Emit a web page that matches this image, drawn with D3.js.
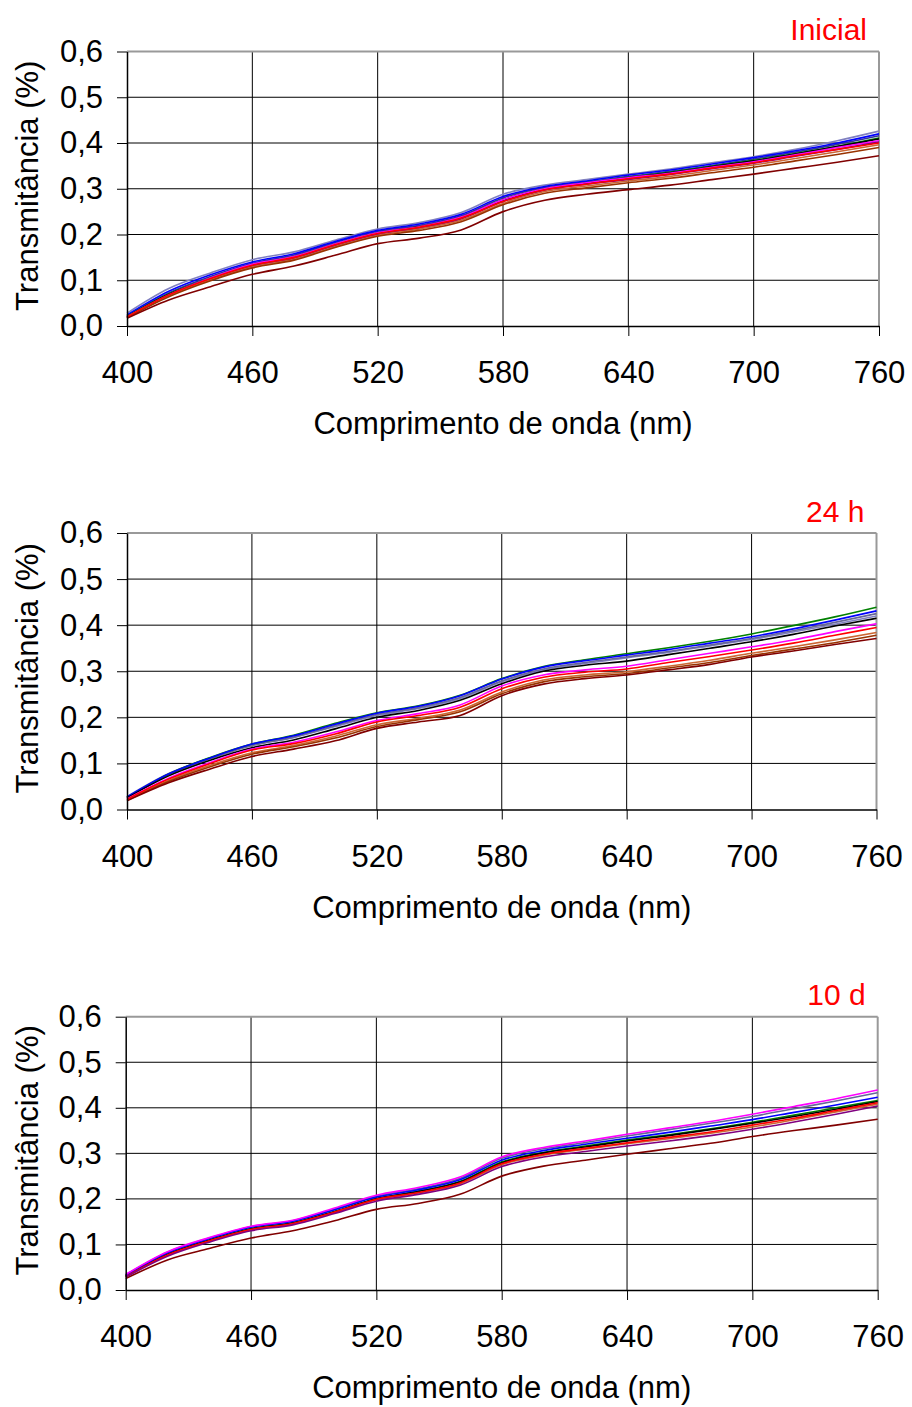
<!DOCTYPE html>
<html>
<head>
<meta charset="utf-8">
<script src="https://cdn.jsdelivr.net/npm/d3@7"></script>
<style>
  body { margin: 0; background: #fff; }
  svg { display: block; font-family: "Liberation Sans", Arial, sans-serif; }
</style>
</head>
<body>
<div id="chart"></div>
<script>
"use strict"

// comprimentos de onda (nm) lidos a cada 20 nm
const comprimentos = [400, 420, 440, 460, 480, 500, 520, 540, 560, 580, 600, 620, 640, 660, 680, 700, 720, 740, 760];
const xTicks = [400, 460, 520, 580, 640, 700, 760];
const yTicks = [0, 0.1, 0.2, 0.3, 0.4, 0.5, 0.6];
const titulos = ["Inicial", "24 h", "10 d"];

// Inicial
const inicialLavanda = [0.028, 0.082, 0.116, 0.145, 0.162, 0.188, 0.212, 0.226, 0.248, 0.288, 0.308, 0.320, 0.332, 0.343, 0.357, 0.370, 0.386, 0.405, 0.426];
const inicialAzul    = [0.024, 0.076, 0.112, 0.140, 0.158, 0.185, 0.209, 0.223, 0.244, 0.283, 0.305, 0.317, 0.330, 0.341, 0.354, 0.368, 0.383, 0.400, 0.420];
const inicialIndigo  = [0.022, 0.072, 0.108, 0.137, 0.155, 0.183, 0.207, 0.220, 0.241, 0.280, 0.303, 0.315, 0.327, 0.338, 0.351, 0.365, 0.380, 0.397, 0.416];
const inicialVerde   = [0.021, 0.070, 0.105, 0.134, 0.152, 0.180, 0.204, 0.217, 0.238, 0.276, 0.300, 0.313, 0.325, 0.336, 0.349, 0.362, 0.377, 0.393, 0.411];
const inicialPreto   = [0.020, 0.069, 0.104, 0.133, 0.151, 0.179, 0.203, 0.217, 0.237, 0.275, 0.299, 0.312, 0.324, 0.335, 0.348, 0.361, 0.376, 0.392, 0.409];
const inicialMagenta = [0.020, 0.068, 0.105, 0.135, 0.152, 0.180, 0.204, 0.217, 0.238, 0.276, 0.300, 0.313, 0.324, 0.334, 0.347, 0.359, 0.374, 0.390, 0.405];
const inicialRoxo    = [0.018, 0.066, 0.102, 0.130, 0.148, 0.176, 0.200, 0.214, 0.234, 0.272, 0.297, 0.310, 0.320, 0.331, 0.344, 0.356, 0.371, 0.386, 0.402];
const inicialLaranja = [0.019, 0.066, 0.101, 0.129, 0.146, 0.174, 0.198, 0.212, 0.231, 0.268, 0.294, 0.306, 0.317, 0.327, 0.340, 0.352, 0.366, 0.381, 0.396];
const inicialMarrom  = [0.018, 0.064, 0.099, 0.127, 0.144, 0.172, 0.196, 0.209, 0.228, 0.265, 0.290, 0.302, 0.313, 0.323, 0.335, 0.347, 0.361, 0.375, 0.390];
const inicialVinho   = [0.017, 0.057, 0.086, 0.113, 0.131, 0.155, 0.180, 0.192, 0.210, 0.250, 0.275, 0.288, 0.298, 0.308, 0.320, 0.332, 0.345, 0.358, 0.372];
const inicialVermelho= [0.020, 0.068, 0.104, 0.133, 0.150, 0.178, 0.202, 0.216, 0.236, 0.272, 0.298, 0.310, 0.322, 0.332, 0.345, 0.357, 0.372, 0.386, 0.400];

// 24 h
const h24Verde    = [0.026, 0.077, 0.113, 0.142, 0.161, 0.187, 0.210, 0.225, 0.248, 0.284, 0.310, 0.325, 0.338, 0.351, 0.365, 0.381, 0.399, 0.418, 0.439];
const h24Azul     = [0.027, 0.077, 0.112, 0.142, 0.160, 0.185, 0.209, 0.224, 0.247, 0.283, 0.309, 0.323, 0.335, 0.347, 0.361, 0.375, 0.392, 0.411, 0.431];
const h24Ardosia  = [0.026, 0.076, 0.110, 0.139, 0.157, 0.182, 0.206, 0.221, 0.243, 0.279, 0.305, 0.319, 0.331, 0.343, 0.357, 0.371, 0.388, 0.406, 0.425];
const h24Lavanda  = [0.028, 0.078, 0.112, 0.139, 0.156, 0.180, 0.204, 0.219, 0.241, 0.277, 0.303, 0.317, 0.329, 0.341, 0.355, 0.369, 0.385, 0.402, 0.420];
const h24Preto    = [0.025, 0.073, 0.107, 0.134, 0.151, 0.175, 0.200, 0.215, 0.237, 0.273, 0.300, 0.313, 0.322, 0.336, 0.350, 0.364, 0.380, 0.398, 0.415];
const h24Magenta  = [0.023, 0.068, 0.102, 0.131, 0.146, 0.168, 0.193, 0.208, 0.227, 0.268, 0.292, 0.303, 0.311, 0.325, 0.339, 0.353, 0.368, 0.386, 0.403];
const h24Vermelho = [0.022, 0.066, 0.100, 0.129, 0.143, 0.164, 0.190, 0.204, 0.222, 0.262, 0.287, 0.298, 0.305, 0.319, 0.332, 0.346, 0.361, 0.378, 0.395];
const h24Laranja  = [0.021, 0.063, 0.096, 0.123, 0.139, 0.159, 0.184, 0.198, 0.216, 0.255, 0.281, 0.292, 0.299, 0.311, 0.324, 0.339, 0.353, 0.368, 0.384];
const h24Marrom   = [0.020, 0.061, 0.093, 0.120, 0.136, 0.155, 0.180, 0.195, 0.212, 0.251, 0.277, 0.288, 0.295, 0.307, 0.319, 0.334, 0.348, 0.362, 0.378];
const h24Vinho    = [0.019, 0.058, 0.088, 0.115, 0.131, 0.149, 0.176, 0.190, 0.204, 0.247, 0.272, 0.284, 0.292, 0.303, 0.315, 0.331, 0.344, 0.358, 0.371];

// 10 d
const d10Magenta  = [0.034, 0.084, 0.115, 0.140, 0.153, 0.180, 0.208, 0.225, 0.248, 0.292, 0.313, 0.327, 0.342, 0.356, 0.370, 0.386, 0.403, 0.420, 0.439];
const d10Ardosia  = [0.033, 0.083, 0.114, 0.139, 0.152, 0.178, 0.206, 0.222, 0.245, 0.289, 0.310, 0.324, 0.338, 0.352, 0.366, 0.381, 0.398, 0.415, 0.433];
const d10Azul     = [0.033, 0.082, 0.113, 0.138, 0.151, 0.176, 0.204, 0.220, 0.242, 0.285, 0.306, 0.320, 0.333, 0.346, 0.360, 0.374, 0.390, 0.406, 0.423];
const d10Verde    = [0.031, 0.079, 0.110, 0.135, 0.148, 0.173, 0.201, 0.217, 0.238, 0.281, 0.302, 0.316, 0.329, 0.341, 0.354, 0.368, 0.384, 0.400, 0.416];
const d10Preto    = [0.030, 0.078, 0.109, 0.134, 0.147, 0.172, 0.200, 0.216, 0.237, 0.279, 0.301, 0.314, 0.327, 0.339, 0.352, 0.366, 0.381, 0.397, 0.414];
const d10Vermelho = [0.030, 0.077, 0.108, 0.133, 0.146, 0.171, 0.199, 0.214, 0.235, 0.277, 0.298, 0.311, 0.323, 0.335, 0.347, 0.362, 0.377, 0.394, 0.411];
const d10Laranja  = [0.029, 0.076, 0.107, 0.132, 0.145, 0.170, 0.198, 0.213, 0.233, 0.275, 0.296, 0.309, 0.321, 0.332, 0.344, 0.358, 0.374, 0.391, 0.408];
const d10Roxo     = [0.028, 0.074, 0.105, 0.130, 0.143, 0.168, 0.195, 0.210, 0.230, 0.271, 0.292, 0.304, 0.316, 0.327, 0.339, 0.353, 0.369, 0.386, 0.404];
const d10Vinho    = [0.025, 0.066, 0.091, 0.114, 0.130, 0.152, 0.177, 0.190, 0.210, 0.250, 0.272, 0.285, 0.298, 0.310, 0.322, 0.337, 0.350, 0.362, 0.375];

const cores = {
    lavanda: "#8080c0",
    ardosia: "#666699",
    azul: "#0000ff",
    indigo: "#333399",
    verde: "#008000",
    preto: "#000000",
    magenta: "#ff00ff",
    vermelho: "#ff0000",
    roxo: "#800080",
    laranja: "#cc6633",
    marrom: "#993300",
    vinho: "#800000"
};

const paineis = [
    { titulo: titulos[0], top: 51.5, bottom: 326, left: 127, right: 879,
      series: [["lavanda", inicialLavanda], ["indigo", inicialIndigo], ["azul", inicialAzul], ["verde", inicialVerde],
               ["preto", inicialPreto], ["magenta", inicialMagenta], ["roxo", inicialRoxo], ["laranja", inicialLaranja],
               ["marrom", inicialMarrom], ["vinho", inicialVinho], ["vermelho", inicialVermelho]] },
    { titulo: titulos[1], top: 533, bottom: 809.5, left: 127, right: 876.5,
      series: [["lavanda", h24Lavanda], ["ardosia", h24Ardosia], ["verde", h24Verde], ["azul", h24Azul],
               ["preto", h24Preto], ["laranja", h24Laranja], ["marrom", h24Marrom], ["vinho", h24Vinho],
               ["magenta", h24Magenta], ["vermelho", h24Vermelho]] },
    { titulo: titulos[2], top: 1016.7, bottom: 1290, left: 125.7, right: 877.7,
      series: [["ardosia", d10Ardosia], ["verde", d10Verde], ["preto", d10Preto], ["laranja", d10Laranja],
               ["vermelho", d10Vermelho], ["roxo", d10Roxo], ["azul", d10Azul], ["vinho", d10Vinho],
               ["magenta", d10Magenta]] }
];

const svg = d3.select("#chart").append("svg")
    .attr("width", 912)
    .attr("height", 1407);

svg.append("rect").attr("width", 912).attr("height", 1407).style("fill", "#fff");

const fmtY = d => d3.format(".1f")(d).replace(".", ",");

paineis.forEach(drawPanel);

function drawPanel(p) {
    let x = d3.scaleLinear().domain([400, 760]).range([p.left, p.right]);
    let y = d3.scaleLinear().domain([0, 0.6]).range([p.bottom, p.top]);
    let g = svg.append("g");

    // grade
    g.selectAll(".hgrid").data(yTicks.slice(1, -1)).enter().append("line")
        .attr("x1", p.left).attr("x2", p.right)
        .attr("y1", d => y(d)).attr("y2", d => y(d))
        .style("stroke", "#000").style("stroke-width", "1px");
    g.selectAll(".vgrid").data(xTicks.slice(1, -1)).enter().append("line")
        .attr("x1", d => x(d)).attr("x2", d => x(d))
        .attr("y1", p.top).attr("y2", p.bottom)
        .style("stroke", "#000").style("stroke-width", "1px");

    // borda superior e direita
    g.append("line").attr("x1", p.left).attr("x2", p.right).attr("y1", y(0.6)).attr("y2", y(0.6))
        .style("stroke", "#999").style("stroke-width", "2px");
    g.append("line").attr("x1", x(760)).attr("x2", x(760)).attr("y1", p.top).attr("y2", p.bottom)
        .style("stroke", "#999").style("stroke-width", "2px");

    // curvas
    let line = d3.line()
        .x((d, i) => x(comprimentos[i]))
        .y(d => y(d))
        .curve(d3.curveMonotoneX);
    g.selectAll(".serie").data(p.series).enter().append("path")
        .attr("d", d => line(d[1]))
        .style("fill", "none")
        .style("stroke", d => cores[d[0]])
        .style("stroke-width", "1.6px");

    // eixos
    let ax = g.append("g")
        .attr("transform", `translate(0,${p.bottom})`)
        .call(d3.axisBottom(x).tickValues(xTicks).tickSize(10).tickSizeOuter(0).tickPadding(25).tickFormat(d3.format("d")));
    let ay = g.append("g")
        .attr("transform", `translate(${p.left},0)`)
        .call(d3.axisLeft(y).tickValues(yTicks).tickSize(10).tickSizeOuter(0).tickPadding(14).tickFormat(fmtY));
    [ax, ay].forEach(a => {
        a.select(".domain").style("stroke", "#000").style("stroke-width", "1.5px");
        a.selectAll(".tick line").style("stroke", "#000").style("stroke-width", "1px");
        a.selectAll("text").style("font-size", "31px").style("fill", "#000")
            .style("font-family", "'Liberation Sans', Arial, sans-serif");
    });

    // rótulos
    g.append("text")
        .attr("x", (p.left + p.right) / 2)
        .attr("y", p.bottom + 108)
        .style("text-anchor", "middle")
        .style("font-size", "31px")
        .text("Comprimento de onda (nm)");

    let cy = (p.top + p.bottom) / 2 - 3;
    g.append("text")
        .attr("transform", `translate(38,${cy}) rotate(-90)`)
        .style("text-anchor", "middle")
        .style("font-size", "31px")
        .text("Transmitância (%)");

    g.append("text")
        .attr("x", p.right - 12)
        .attr("y", p.top - 11.5)
        .style("text-anchor", "end")
        .style("font-size", "30px")
        .style("fill", "#ff0000")
        .text(p.titulo);
}
</script>
</body>
</html>
